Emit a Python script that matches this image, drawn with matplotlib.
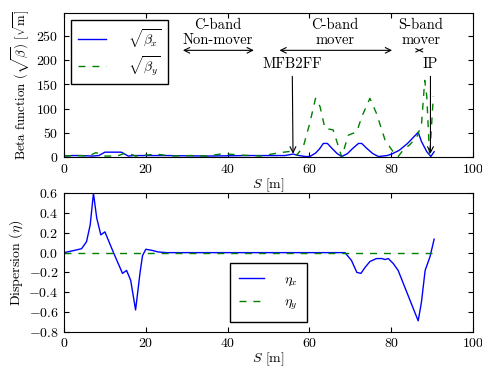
import numpy as np
import matplotlib
matplotlib.use("Agg")
import matplotlib.pyplot as plt

plt.rcParams["font.family"] = "serif"
plt.rcParams["font.serif"] = ["cmr10"]
plt.rcParams["mathtext.fontset"] = "cm"
plt.rcParams["axes.formatter.use_mathtext"] = True
plt.rcParams["font.size"] = 10
plt.rcParams["xtick.direction"] = "in"
plt.rcParams["ytick.direction"] = "in"
plt.rcParams["xtick.top"] = True
plt.rcParams["ytick.right"] = True
plt.rcParams["xtick.major.pad"] = 4
plt.rcParams["ytick.major.pad"] = 4

# sqrt(beta_x) along the beamline
s_bx = [0, 2, 4, 7, 8.5, 10, 14, 15.7, 17, 25, 35, 45, 54, 56, 57.5, 59, 60.1,
        61.5, 62.5, 63.4, 64.4, 65.5, 66.8, 67.9, 69.3, 70.5, 72, 72.8, 74,
        75.5, 76.9, 79, 80.1, 82, 84, 86.6, 87.4, 88.7, 89.7, 90.5]
bx = [2, 3, 3, 2, 3, 10, 10, 2, 3, 3, 2, 3, 3, 6, 3, 1, 1,
      8, 17, 28, 28, 18, 7, 1, 7, 17, 28, 28, 18, 7, 1, 3, 6, 14, 28, 51, 32, 11, 1, 11]

# sqrt(beta_y) along the beamline
s_by = [0, 3, 6, 7.8, 10, 13, 15.3, 17.5, 20, 22.7, 26, 31, 35, 38.9, 43, 48,
        52.8, 55.7, 56.9, 58.5, 60.1, 61.5, 62.6, 63.8, 65.8, 66.6, 67.9,
        69.5, 71.6, 72.8, 74.8, 76.4, 78.5, 80.7, 81.7, 83, 84.5, 86.2, 87.4,
        88.2, 88.7, 89.4, 90.3]
by = [2, 3, 2, 9, 2, 2, 9, 2, 4, 6, 2, 3, 2, 7, 4, 2,
      9, 12, 4, 21, 70, 121, 104, 59, 56, 35, 0,
      45, 52, 83, 121, 90, 35, 8, 1, 15, 25, 40, 66,
      158, 125, 0, 125]

# dispersion
s_eta = [0, 2.7, 4.3, 5.5, 6.4, 7.2, 8.0, 9.0, 10.0, 12.1, 14.3, 15.3, 16.3,
         17.5, 18.6, 19.2, 20.0, 21.4, 23, 25, 50, 68.7, 70.3, 71.6, 72.6,
         73.6, 74.8, 76.4, 77.7, 78.5, 79.3, 80.5, 81.7, 86.6, 87.4, 88.3,
         89.5, 90.5]
eta_x = [0, 0.024, 0.04, 0.11, 0.28, 0.6, 0.35, 0.18, 0.21, 0.0, -0.21, -0.18,
         -0.28, -0.58, -0.2, -0.03, 0.034, 0.024, 0.007, 0, 0, 0, -0.08, -0.2,
         -0.21, -0.15, -0.09, -0.06, -0.06, -0.07, -0.06, -0.11, -0.18, -0.69,
         -0.5, -0.18, -0.04, 0.136]
s_eta_y = [0, 90.5]
eta_y = [0, 0]

fig = plt.figure(figsize=(4.82, 3.66), dpi=100)
ax1 = fig.add_axes([0.1328, 0.571, 0.8485, 0.3935])
ax2 = fig.add_axes([0.1328, 0.0937, 0.8485, 0.3781])

dash = (5, 5)

# beta functions
ax1.plot(s_bx, bx, "b-", lw=1.0, label=r"$\sqrt{\beta_x}$")
ax1.plot(s_by, by, "g--", lw=1.0, dashes=dash, label=r"$\sqrt{\beta_y}$")
ax1.set_xlim(0, 100)
ax1.set_ylim(0, 297)
ax1.set_yticks([0, 50, 100, 150, 200, 250])
ax1.set_xlabel(r"$S$ [m]", labelpad=1)
ax1.set_ylabel(r"Beta function ($\sqrt{\beta}$) [$\sqrt{\rm m}$]",
               fontsize=9.3, labelpad=3)
ax1.legend(loc="upper left", handlelength=2.0, handletextpad=1.6,
           fancybox=False, edgecolor="k", framealpha=1, borderpad=0.5,
           labelspacing=0.3, borderaxespad=0.5)

arr = dict(arrowstyle="<->", color="k", lw=0.8)
ax1.annotate("", xy=(28.4, 220), xytext=(47.1, 220), arrowprops=arr)
ax1.annotate("", xy=(52, 220), xytext=(80.9, 220), arrowprops=arr)
ax1.annotate("", xy=(86.6, 220), xytext=(87.8, 220),
             arrowprops=dict(arrowstyle="<->", color="k", lw=0.8,
                             mutation_scale=6))
ax1.text(37.5, 257, "C-band\nNon-mover", ha="center", va="center",
         fontsize=10.5, linespacing=1.15)
ax1.text(66.3, 257, "C-band\nmover", ha="center", va="center",
         fontsize=10.5, linespacing=1.15)
ax1.text(87.2, 257, "S-band\nmover", ha="center", va="center",
         fontsize=10.5, linespacing=1.15)
down = dict(arrowstyle="->", color="k", lw=0.8)
ax1.annotate("MFB2FF", xy=(56, 1), xytext=(55.8, 192), ha="center",
             va="center", fontsize=10.5, arrowprops=down)
ax1.annotate("IP", xy=(89.6, 1), xytext=(89.6, 192), ha="center",
             va="center", fontsize=10.5, arrowprops=down)

# dispersion
ax2.plot(s_eta, eta_x, "b-", lw=1.0, label=r"$\eta_x$")
ax2.plot(s_eta_y, eta_y, "g--", lw=1.0, dashes=dash, label=r"$\eta_y$")
ax2.set_xlim(0, 100)
ax2.set_ylim(-0.8, 0.6)
ax2.set_yticks(np.arange(-0.8, 0.61, 0.2))
ax2.set_xlabel(r"$S$ [m]", labelpad=0)
ax2.set_ylabel(r"Dispersion ($\eta$)", labelpad=2)
ax2.legend(loc="lower center", bbox_to_anchor=(0.5, 0.02), handlelength=1.8,
           handletextpad=1.4, fancybox=False, edgecolor="k", framealpha=1,
           borderpad=0.7, labelspacing=0.6)

fig.savefig("out.png", dpi=100)
